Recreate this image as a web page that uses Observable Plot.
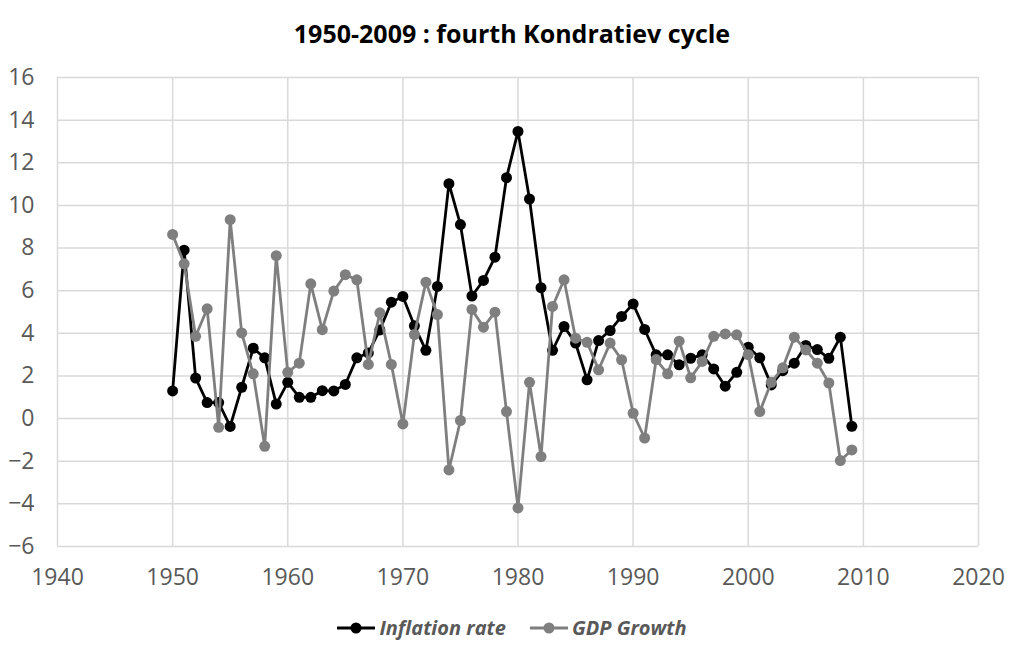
<!DOCTYPE html>
<html><head><meta charset="utf-8">
<script src="https://cdn.jsdelivr.net/npm/d3@7"></script>
<script src="https://cdn.jsdelivr.net/npm/@observablehq/plot@0.6"></script>
<style>
body{margin:0;background:#fff;font-family:"Open Sans",sans-serif;width:1024px;height:646px;overflow:hidden;}
#title{height:60px;line-height:66px;text-align:center;font-weight:bold;font-size:25px;color:#000;}
#chart{height:540px;}
#legend{display:flex;justify-content:center;align-items:center;gap:24px;margin-top:14px;font-style:italic;font-weight:bold;font-size:20px;color:#595959;}
#legend .item{display:flex;align-items:center;gap:4px;}
</style></head><body>
<div id="title">1950-2009 : fourth Kondratiev cycle</div>
<div id="chart"></div>
<div id="legend"></div>
<script>
const years = [1950,1951,1952,1953,1954,1955,1956,1957,1958,1959,
  1960,1961,1962,1963,1964,1965,1966,1967,1968,1969,
  1970,1971,1972,1973,1974,1975,1976,1977,1978,1979,
  1980,1981,1982,1983,1984,1985,1986,1987,1988,1989,
  1990,1991,1992,1993,1994,1995,1996,1997,1998,1999,
  2000,2001,2002,2003,2004,2005,2006,2007,2008,2009];
const inflation = [1.3,7.9,1.9,0.75,0.75,-0.37,1.47,3.3,2.85,0.68,
  1.7,1.0,1.0,1.31,1.3,1.6,2.85,3.08,4.16,5.46,
  5.73,4.35,3.2,6.2,11.02,9.1,5.75,6.48,7.57,11.3,
  13.47,10.3,6.14,3.2,4.32,3.54,1.82,3.66,4.13,4.79,
  5.38,4.18,2.99,2.99,2.52,2.83,2.99,2.33,1.52,2.17,
  3.35,2.85,1.58,2.25,2.6,3.43,3.24,2.83,3.82,-0.36];
const gdp = [8.64,7.26,3.86,5.15,-0.41,9.33,4.02,2.1,-1.3,7.64,
  2.17,2.6,6.32,4.17,5.98,6.75,6.51,2.54,4.96,2.54,
  -0.25,3.94,6.4,4.88,-2.41,-0.09,5.12,4.29,4.99,0.33,
  -4.19,1.7,-1.78,5.26,6.51,3.77,3.58,2.29,3.54,2.76,
  0.25,-0.91,2.77,2.1,3.63,1.91,2.68,3.86,3.97,3.93,
  3.0,0.33,1.7,2.38,3.82,3.22,2.6,1.67,-1.97,-1.47];
const seriesNames = ["Inflation rate","GDP Growth"];
const seriesColors = ["#000000","#7f7f7f"];
const xTicks = [1940,1950,1960,1970,1980,1990,2000,2010,2020];
const yTicks = [-6,-4,-2,0,2,4,6,8,10,12,14,16];

const data = [
  ...years.map((y,i)=>({year:y,value:inflation[i],series:seriesNames[0]})),
  ...years.map((y,i)=>({year:y,value:gdp[i],series:seriesNames[1]}))
];

const chart = Plot.plot({
  width:1024, height:540,
  marginLeft:57, marginRight:46, marginTop:17, marginBottom:54,
  style:{fontFamily:"Open Sans, sans-serif", fontSize:"23px", color:"#595959", background:"#fff"},
  x:{domain:[1940,2020], ticks:xTicks, tickFormat:d=>String(d), label:null},
  y:{domain:[-6,16], ticks:yTicks, label:null},
  color:{domain:seriesNames, range:seriesColors},
  marks:[
    Plot.gridX(xTicks,{stroke:"#d9d9d9",strokeOpacity:1,strokeWidth:1.5}),
    Plot.gridY(yTicks,{stroke:"#d9d9d9",strokeOpacity:1,strokeWidth:1.5}),
    Plot.axisX(xTicks,{tickSize:0,tickPadding:22,fill:"#595959",fontSize:23,label:null,tickFormat:d=>String(d)}),
    Plot.axisY(yTicks,{tickSize:0,tickPadding:23,fill:"#595959",fontSize:23,label:null}),
    Plot.lineY(data.filter(d=>d.series===seriesNames[0]),{x:"year",y:"value",stroke:"series",strokeWidth:2.8}),
    Plot.dot(data.filter(d=>d.series===seriesNames[0]),{x:"year",y:"value",fill:"series",r:5.5}),
    Plot.lineY(data.filter(d=>d.series===seriesNames[1]),{x:"year",y:"value",stroke:"series",strokeWidth:2.8}),
    Plot.dot(data.filter(d=>d.series===seriesNames[1]),{x:"year",y:"value",fill:"series",r:5.5})
  ]
});
document.getElementById("chart").appendChild(chart);

const legend = document.getElementById("legend");
seriesNames.forEach((name,i)=>{
  const item = document.createElement("div");
  item.className="item";
  item.innerHTML = `<svg width="38" height="14"><line x1="0" y1="7" x2="38" y2="7" stroke="${seriesColors[i]}" stroke-width="2.8"/><circle cx="19" cy="7" r="5.5" fill="${seriesColors[i]}"/></svg><span>${name}</span>`;
  legend.appendChild(item);
});
</script>
</body></html>
